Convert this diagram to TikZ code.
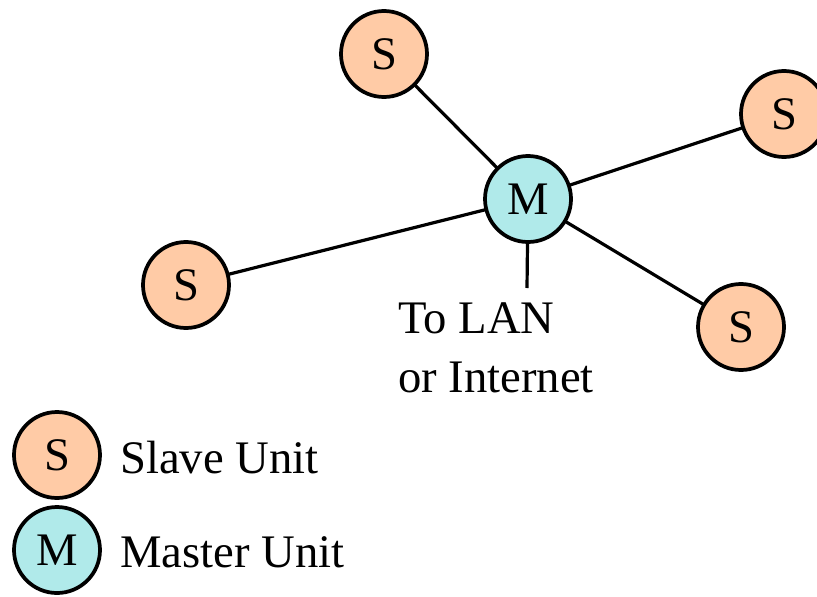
\documentclass[tikz,border=0pt]{standalone}
\usepackage{fontspec}
\setmainfont{Liberation Serif}
\definecolor{slavefill}{HTML}{FFCBA6}
\definecolor{masterfill}{HTML}{B0EAEA}
\begin{document}
\begin{tikzpicture}[x=0.75pt,y=-0.75pt,
  unit/.style={circle,draw=black,line width=2.8pt,minimum size=86*0.75pt,inner sep=0pt,font=\fontsize{35}{35}\selectfont},
  slave/.style={unit,fill=slavefill},
  master/.style={unit,fill=masterfill},
  link/.style={line width=2.4pt},
  lbl/.style={font=\fontsize{35}{35}\selectfont,inner sep=0pt,anchor=base west}]
\useasboundingbox (0,0) rectangle (817,596);
% network links (drawn first so the circles cover the ends)
\coordinate (m0) at (528,199);
\coordinate (lan) at (527,288);
\draw[link] (m0) -- (384,54);
\draw[link] (m0) -- (784,114);
\draw[link] (m0) -- (186,285);
\draw[link] (m0) -- (741,327);
\draw[link] (m0) -- (lan);
% units
\node[master] (m) at (528,199) {M};
\node[slave] (s1) at (384,54) {S};
\node[slave] (s2) at (784,114) {S};
\node[slave] (s3) at (186,285) {S};
\node[slave] (s4) at (741,327) {S};
% uplink label
\node[lbl] (t1) at (398,333) {To LAN};
\node[lbl] (t2) at (398,392) {or Internet};
% legend
\node[slave] (ls) at (57,455) {S};
\node[master] (lm) at (57,550) {M};
\node[lbl] (lst) at (120,473) {Slave Unit};
\node[lbl] (lmt) at (120,567) {Master Unit};
\end{tikzpicture}
\end{document}
